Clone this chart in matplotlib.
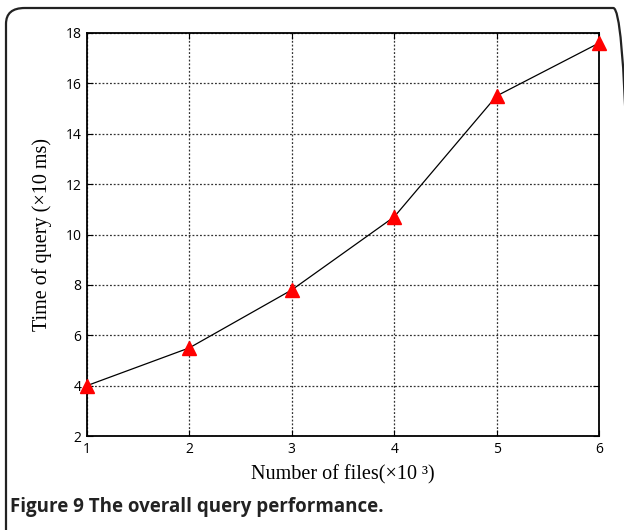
import matplotlib
matplotlib.use('Agg')
import matplotlib.pyplot as plt
from matplotlib.patches import FancyBboxPatch

files = [1, 2, 3, 4, 5, 6]
query_time = [4.0, 5.5, 7.8, 10.7, 15.5, 17.6]
yticks = [2, 4, 6, 8, 10, 12, 14, 16, 18]

W, H = 624, 530
fig = plt.figure(figsize=(W / 100, H / 100), dpi=100)

# frame round the figure (rounded top corners, open at bottom, runs off right edge)
box = FancyBboxPatch((6 / W, -0.2), (W + 8 - 6) / W, (H - 8) / H + 0.2,
                     boxstyle='round,pad=0,rounding_size=0.03',
                     transform=fig.transFigure, fill=False,
                     edgecolor='#222222', linewidth=1.6, clip_on=False)
fig.patches.append(box)

ax = fig.add_axes([87 / W, (H - 436) / H, (599 - 87) / W, (436 - 33) / H])
ax.plot(files, query_time, color='black', linewidth=0.9, marker='^',
        markersize=10, markerfacecolor='red', markeredgecolor='red',
        clip_on=False, zorder=3)

ax.set_xlim(1, 6)
ax.set_ylim(2, 18)
ax.set_xticks(files)
ax.set_yticks(yticks)
ax.grid(True, linestyle=(0, (1.5, 1.5)), color='#333333', linewidth=0.9)
ax.tick_params(direction='in', top=True, right=True, length=4, width=0.8,
               labelsize=10, pad=4)
for lab in ax.get_xticklabels() + ax.get_yticklabels():
    lab.set_fontfamily('Open Sans')
for s in ax.spines.values():
    s.set_linewidth(1.3)

ax.set_xlabel('Number of files(×10 ³)', family='Liberation Serif',
              fontsize=14.5, labelpad=6)
ax.set_ylabel('Time of query (×10 ms)', family='Liberation Serif',
              fontsize=14.5, labelpad=10)

fig.text(10 / W, 1 - 507 / H, 'Figure 9 The overall query performance.',
         family='Open Sans', fontweight='bold', fontsize=13.5,
         color='#222222', va='center', ha='left')

fig.savefig('out.png', dpi=100)
